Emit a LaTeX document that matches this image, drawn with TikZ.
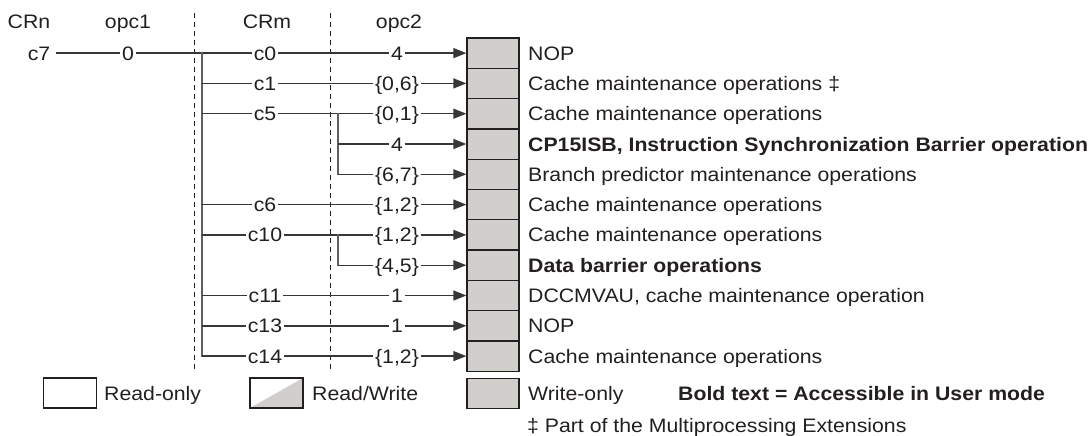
\documentclass[tikz,border=0pt]{standalone}
\usepackage{fontspec}
\setmainfont{Liberation Sans}[FakeStretch=1.09]
\usetikzlibrary{arrows.meta}
\definecolor{ink}{RGB}{35,31,32}
\definecolor{wirecol}{RGB}{55,55,55}
\definecolor{buscol}{RGB}{95,95,95}
\definecolor{cellgray}{RGB}{208,207,203}

\begin{document}
\begin{tikzpicture}[x=1pt, y=-1pt,
    every node/.style={font=\fontsize{19.5}{23}\selectfont, text=ink},
    lbl/.style={inner xsep=1.5pt, inner ysep=0pt, text height=14pt, text depth=0pt},
    wirelbl/.style={lbl, fill=white},
    desc/.style={anchor=base west, inner sep=0pt},
    cell/.style={draw=ink, line width=1.3pt, fill=cellgray, minimum width=52pt,
      minimum height=30.3pt, inner sep=0pt},
    key/.style={draw=ink, line width=1.3pt, minimum width=53pt, minimum height=30pt, inner sep=0pt},
    wire/.style={draw=wirecol, line width=1.4pt},
    arrow/.style={wire, -{Triangle[length=13pt,width=10pt]}},
    bus/.style={draw=buscol, line width=2.2pt},
    divider/.style={draw=ink, line width=0.9pt, dash pattern=on 5pt off 4pt}]
  \useasboundingbox (0,0) rectangle (1090,436);

  % column heads
  \node[lbl] (hcrn) at (29,22)  {CRn};
  \node[lbl] (hop1) at (128,22) {opc1};
  \node[lbl] (hcrm) at (267,22) {CRm};
  \node[lbl] (hop2) at (399,22) {opc2};
  \draw[divider] (194.3,13) -- (194.3,369);
  \draw[divider] (330.7,13) -- (330.7,369);

  % register cells and what they do
  \foreach \i/\txt in {0/NOP, 1/Cache maintenance operations ‡, 2/Cache maintenance operations,
      3/{\textbf{CP15ISB, Instruction Synchronization Barrier operation}},
      4/Branch predictor maintenance operations, 5/Cache maintenance operations,
      6/Cache maintenance operations, 7/{\textbf{Data barrier operations}},
      8/{DCCMVAU, cache maintenance operation}, 9/NOP, 10/Cache maintenance operations} {
    \pgfmathsetmacro\yy{53.1+30.3*\i}
    \pgfmathsetmacro\yb{\yy+7}
    \node[cell] (box\i) at (493,\yy) {};
    \node[desc] (txt\i) at (528,\yb) {\txt};
  }

  % c7 / 0 / c0 / 4
  \node[lbl, inner xsep=6pt] (c7) at (39,53.1) {c7};
  \node[wirelbl] (opc1) at (128,53.1) {0};
  \node[wirelbl] (cm0) at (265,53.1) {c0};
  \node[wirelbl] (op0) at (397,53.1) {4};
  \draw[arrow] (c7) -- (opc1) -- (cm0) -- (op0) -- (box0);

  \coordinate (bustop) at (202.3,52);
  \coordinate (busbot) at (202.3,357.2);
  \draw[bus] (bustop) -- (busbot);

  \foreach \i/\cm/\op in {1/c1/{\{0,6\}}, 2/c5/{\{0,1\}}, 5/c6/{\{1,2\}}, 6/c10/{\{1,2\}},
      8/c11/1, 9/c13/1, 10/c14/{\{1,2\}}} {
    \pgfmathsetmacro\yy{53.1+30.3*\i}
    \coordinate (tap\i) at (202.3,\yy);
    \node[wirelbl] (cm\i) at (265,\yy) {\cm};
    \node[wirelbl] (op\i) at (397,\yy) {\op};
    \draw[arrow] (tap\i) -- (cm\i) -- (op\i) -- (box\i);
  }

  % second level of opc2
  \coordinate (subtopA) at (338.3,112.6);
  \coordinate (subbotA) at (338.3,175.4);
  \coordinate (subtopB) at (338.3,233.8);
  \coordinate (subbotB) at (338.3,266.3);
  \draw[bus] (subtopA) -- (subbotA);
  \draw[bus] (subtopB) -- (subbotB);
  \foreach \i/\op in {3/4, 4/{\{6,7\}}, 7/{\{4,5\}}} {
    \pgfmathsetmacro\yy{53.1+30.3*\i}
    \coordinate (tap\i) at (338.3,\yy);
    \node[wirelbl] (op\i) at (397,\yy) {\op};
    \draw[arrow] (tap\i) -- (op\i) -- (box\i);
  }

  % key
  \node[key] (ro) at (70,393) {};
  \node[key, path picture={\fill[cellgray] (path picture bounding box.south west)
      -- (path picture bounding box.north east) |- cycle;}] (rw) at (276.5,393) {};
  \node[cell] (wo) at (493,393.5) {};
  \node[desc] (rotxt) at (104,400) {Read-only};
  \node[desc] (rwtxt) at (312,400) {Read/Write};
  \node[desc] (wotxt) at (528,400) {Write-only};
  \node[desc] (boldtxt) at (678,400) {\textbf{Bold text = Accessible in User mode}};
  \node[desc] (mpnote) at (527,432) {‡ Part of the Multiprocessing Extensions};
\end{tikzpicture}
\end{document}
